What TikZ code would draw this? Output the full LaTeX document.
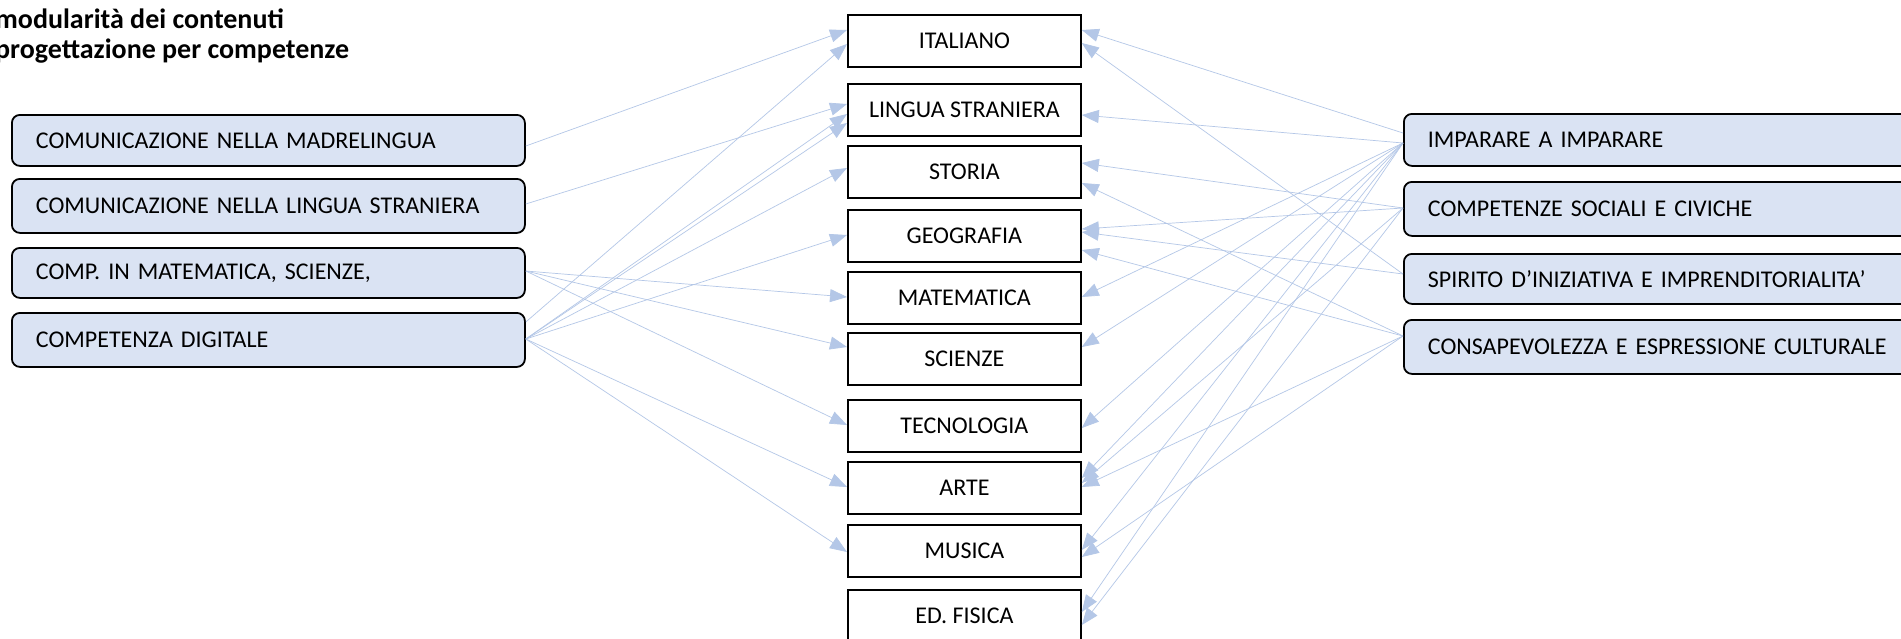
\documentclass[tikz,border=0pt]{standalone}
\usepackage{fontspec}
\setmainfont{Carlito}
\usetikzlibrary{arrows.meta,calc}
\definecolor{boxfill}{HTML}{DAE3F3}
\definecolor{connc}{HTML}{B4C7E7}
\begin{document}
\begin{tikzpicture}[x=1pt,y=-1pt,
  comp/.style={draw=black,line width=1.8pt,rounded corners=8pt,fill=boxfill,anchor=north west,
    inner xsep=24pt,inner ysep=0pt,align=left,font=\fontsize{24}{28}\selectfont},
  compL/.style={comp,text width=465pt},
  compR/.style={comp,text width=512pt},
  subj/.style={draw=black,line width=1.8pt,fill=white,anchor=north west,minimum width=233pt,
    minimum height=52pt,inner sep=0pt,font=\fontsize{24}{28}\selectfont},
  ttl/.style={anchor=base west,inner sep=0pt,font=\bfseries\fontsize{28}{30}\selectfont},
  conn/.style={draw=connc,line width=0.7pt,-{Triangle[length=17pt,width=13pt]}}
]
\clip (0,0) rectangle (1901,638);
\fill[white] (0,0) rectangle (1901,638);

% title
\node[ttl] (t1) at (-5,28) {modularità dei contenuti};
\node[ttl] (t2) at (-5,58) {progettazione per competenze};

% left competences
\node[compL,minimum height=51pt] (L1) at (11,114) {COMUNICAZIONE NELLA MADRELINGUA};
\node[compL,minimum height=54pt] (L2) at (11,178) {COMUNICAZIONE NELLA LINGUA STRANIERA};
\node[compL,minimum height=50pt] (L3) at (11,247) {COMP. IN MATEMATICA, SCIENZE,};
\node[compL,minimum height=54pt] (L4) at (11,312) {COMPETENZA DIGITALE};

% subjects
\node[subj] (IT) at (847,14)  {ITALIANO};
\node[subj] (LS) at (847,83)  {LINGUA STRANIERA};
\node[subj] (ST) at (847,145) {STORIA};
\node[subj] (GE) at (847,209) {GEOGRAFIA};
\node[subj] (MA) at (847,271) {MATEMATICA};
\node[subj] (SC) at (847,332) {SCIENZE};
\node[subj] (TE) at (847,399) {TECNOLOGIA};
\node[subj] (AR) at (847,461) {ARTE};
\node[subj] (MU) at (847,524) {MUSICA};
\node[subj] (EF) at (847,589) {ED. FISICA};

% right competences
\node[compR,minimum height=52pt] (R1) at (1403,113) {IMPARARE A IMPARARE};
\node[compR,minimum height=54pt] (R2) at (1403,181) {COMPETENZE SOCIALI E CIVICHE};
\node[compR,minimum height=50pt] (R3) at (1403,253) {SPIRITO D’INIZIATIVA E IMPRENDITORIALITA’};
\node[compR,minimum height=54pt] (R4) at (1403,319) {CONSAPEVOLEZZA E ESPRESSIONE CULTURALE};

% left connectors
\draw[conn] ($(L1.north east)+(0,32)$) -- ($(IT.north west)+(0,16)$);
\draw[conn] ($(L2.north east)+(0,26)$) -- ($(LS.north west)+(0,21)$);
\draw[conn] ($(L3.north east)+(0,24)$) -- ($(MA.north west)+(0,26)$);
\draw[conn] ($(L3.north east)+(0,24)$) -- ($(SC.north west)+(0,15)$);
\draw[conn] ($(L3.north east)+(0,24)$) -- ($(TE.north west)+(0,26)$);
\draw[conn] ($(L4.north east)+(0,10)$) -- ($(IT.north west)+(0,30)$);
\draw[conn] ($(L4.north east)+(0,27)$) -- ($(LS.north west)+(0,31)$);
\draw[conn] ($(L4.north east)+(0,27)$) -- ($(LS.north west)+(0,40)$);
\draw[conn] ($(L4.north east)+(0,27)$) -- ($(ST.north west)+(0,23)$);
\draw[conn] ($(L4.north east)+(0,27)$) -- ($(GE.north west)+(0,26)$);
\draw[conn] ($(L4.north east)+(0,27)$) -- ($(AR.north west)+(0,26)$);
\draw[conn] ($(L4.north east)+(0,27)$) -- ($(MU.north west)+(0,28)$);

% right connectors
\draw[conn] ($(R1.north west)+(0,20)$) -- ($(IT.north east)+(0,16)$);
\draw[conn] ($(R1.north west)+(0,30)$) -- ($(LS.north east)+(0,32)$);
\draw[conn] ($(R1.north west)+(0,30)$) -- ($(MA.north east)+(0,26)$);
\draw[conn] ($(R1.north west)+(0,30)$) -- ($(SC.north east)+(0,15)$);
\draw[conn] ($(R1.north west)+(0,30)$) -- ($(TE.north east)+(0,29)$);
\draw[conn] ($(R1.north west)+(0,30)$) -- ($(AR.north east)+(0,17)$);
\draw[conn] ($(R1.north west)+(0,30)$) -- ($(MU.north east)+(0,26)$);
\draw[conn] ($(R1.north west)+(0,30)$) -- ($(EF.north east)+(0,23)$);
\draw[conn] ($(R2.north west)+(0,27)$) -- ($(ST.north east)+(0,18)$);
\draw[conn] ($(R2.north west)+(0,27)$) -- ($(GE.north east)+(0,20)$);
\draw[conn] ($(R2.north west)+(0,27)$) -- ($(AR.north east)+(0,22)$);
\draw[conn] ($(R2.north west)+(0,27)$) -- ($(EF.north east)+(0,36)$);
\draw[conn] ($(R3.north west)+(0,21)$) -- ($(IT.north east)+(0,29)$);
\draw[conn] ($(R3.north west)+(0,21)$) -- ($(GE.north east)+(0,23)$);
\draw[conn] ($(R4.north west)+(0,17)$) -- ($(ST.north east)+(0,38)$);
\draw[conn] ($(R4.north west)+(0,17)$) -- ($(GE.north east)+(0,41)$);
\draw[conn] ($(R4.north west)+(0,17)$) -- ($(AR.north east)+(0,26)$);
\draw[conn] ($(R4.north west)+(0,17)$) -- ($(MU.north east)+(0,33)$);
\end{tikzpicture}
\end{document}
